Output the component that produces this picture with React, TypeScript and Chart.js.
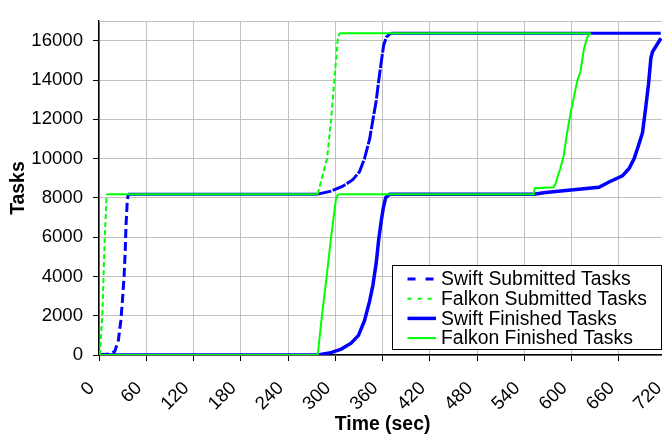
import React, { useEffect, useRef } from "react";
import { Chart, registerables } from "chart.js";

Chart.register(...registerables);

// ---- Data (time in seconds, tasks) ----
const swiftSubmittedTime = [1, 14, 20, 24.6, 27.7, 29.7, 31.9, 33.2, 34.4, 35.7, 37, 277.6, 294.6, 309.5, 322.2, 330.7, 337, 343.5, 347.7, 352, 355, 358.4, 361.3, 364.8, 369, 371, 713];
const swiftSubmittedTasks = [0, 60, 180, 757, 1750, 2740, 4060, 5210, 6700, 7690, 8192, 8192, 8345, 8593, 8925, 9337, 10000, 10990, 11980, 12970, 13960, 14950, 15770, 16190, 16350, 16384, 16384];

const falkonSubmittedTime = [1, 4.2, 7.3, 9.8, 277.6, 279.7, 289.5, 294.6, 298.8, 303.1, 305.2, 624];
const falkonSubmittedTasks = [0, 2000, 6000, 8192, 8192, 8510, 10000, 12000, 14000, 16100, 16384, 16384];

const swiftFinishedTime = [0, 277.6, 292.5, 307.5, 320, 329.4, 337, 343.5, 347.7, 352, 355, 358.4, 361, 364, 369, 551.8, 566.6, 634.6, 647.4, 664.4, 672.9, 679.3, 684.8, 689.9, 694.1, 697.5, 700.5, 702.6, 709, 713.3];
const swiftFinishedTasks = [0, 0, 100, 300, 600, 1000, 1750, 2740, 3560, 4720, 5870, 6860, 7520, 8020, 8192, 8192, 8270, 8540, 8810, 9120, 9500, 10000, 10660, 11320, 12640, 13790, 15110, 15440, 15850, 16130];

const falkonFinishedTime = [0, 277.6, 282.7, 289, 294.6, 301, 303, 305.2, 551.8, 553, 577, 579, 585.6, 589.9, 594.2, 598.5, 602.8, 607.1, 611.3, 615.6, 619.9, 624];
const falkonFinishedTasks = [0, 0, 1900, 4000, 6000, 8000, 8150, 8192, 8192, 8490, 8540, 8680, 9500, 10160, 11320, 12300, 13130, 13960, 14450, 15600, 16190, 16384];

const seriesLabels = ["Swift Submitted Tasks", "Falkon Submitted Tasks", "Swift Finished Tasks", "Falkon Finished Tasks"];
const xTickValues = [0, 60, 120, 180, 240, 300, 360, 420, 480, 540, 600, 660, 720];
const yTickValues = [0, 2000, 4000, 6000, 8000, 10000, 12000, 14000, 16000];
const xTitle = "Time (sec)";
const yTitle = "Tasks";

const FONT = "'Liberation Sans', Arial, Helvetica, sans-serif";
const BLUE = "#0000FF";
const GREEN = "#00FF00";

export default function App() {
  const ref = useRef<HTMLCanvasElement>(null);

  useEffect(() => {
    if (!ref.current) return;
    const pts = (xs: number[], ys: number[]) => xs.map((x, i) => ({ x, y: ys[i] }));
    const dashSeg = (early: number[], late: number[]) => (c: any) =>
      c.p0.parsed.y === c.p1.parsed.y ? [] : c.p0.parsed.x < 100 ? early : late;

    const legendDash: number[][] = [[8, 10], [4, 6], [], []];

    const topLine = {
      id: "topLine",
      beforeDatasetsDraw(chart: any) {
        const { ctx, chartArea: a } = chart;
        ctx.save();
        ctx.strokeStyle = "#c0c0c0";
        ctx.lineWidth = 1;
        ctx.beginPath();
        ctx.moveTo(a.left, Math.round(a.top) + 0.5);
        ctx.lineTo(a.right, Math.round(a.top) + 0.5);
        ctx.stroke();
        ctx.restore();
      },
    };

    const boxLegend = {
      id: "boxLegend",
      afterDraw(chart: any) {
        const { ctx, chartArea: a } = chart;
        const bx = Math.round(a.left + 293) + 0.5;
        const by = Math.round(a.bottom - 90) + 0.5;
        const bw = 269;
        const bh = 84;
        ctx.save();
        ctx.fillStyle = "#fff";
        ctx.fillRect(bx, by, bw, bh);
        ctx.strokeStyle = "#000";
        ctx.lineWidth = 1;
        ctx.strokeRect(bx, by, bw, bh);
        ctx.font = `19.4px ${FONT}`;
        ctx.textBaseline = "middle";
        ctx.textAlign = "left";
        chart.data.datasets.forEach((ds: any, i: number) => {
          const y = by + 13.5 + i * 19.7;
          ctx.save();
          ctx.strokeStyle = ds.borderColor;
          ctx.lineWidth = ds.borderWidth;
          ctx.setLineDash(legendDash[i]);
          ctx.beginPath();
          ctx.moveTo(bx + 15, y);
          ctx.lineTo(bx + 43.5, y);
          ctx.stroke();
          ctx.restore();
          ctx.fillStyle = "#000";
          ctx.fillText(ds.label, bx + 48.5, y + 1);
        });
        ctx.restore();
      },
    };

    const chart = new Chart(ref.current, {
      type: "line",
      data: {
        datasets: [
          {
            label: seriesLabels[0],
            data: pts(swiftSubmittedTime, swiftSubmittedTasks),
            borderColor: BLUE,
            borderWidth: 3,
            segment: { borderDash: dashSeg([9, 4], [14, 1.5]) },
            order: 2,
          },
          {
            label: seriesLabels[1],
            data: pts(falkonSubmittedTime, falkonSubmittedTasks),
            borderColor: GREEN,
            borderWidth: 2,
            segment: { borderDash: dashSeg([5, 3], [5, 3]) },
            order: 0,
          },
          {
            label: seriesLabels[2],
            data: pts(swiftFinishedTime, swiftFinishedTasks),
            borderColor: BLUE,
            borderWidth: 3.5,
            order: 3,
          },
          {
            label: seriesLabels[3],
            data: pts(falkonFinishedTime, falkonFinishedTasks),
            borderColor: GREEN,
            borderWidth: 2,
            order: 1,
          },
        ] as any,
      },
      options: {
        animation: false,
        responsive: false,
        layout: { padding: { top: 12, left: 0, right: 0, bottom: 0 } },
        elements: { point: { radius: 0 }, line: { tension: 0, fill: false } },
        plugins: { legend: { display: false }, tooltip: { enabled: false } },
        scales: {
          x: {
            type: "linear",
            min: 0,
            max: 720,
            afterBuildTicks(s: any) {
              s.ticks = xTickValues.map((v) => ({ value: v }));
            },
            ticks: {
              autoSkip: false,
              maxRotation: 45,
              minRotation: 45,
              color: "#000",
              padding: 9,
              font: { family: FONT, size: 18.6 },
              callback: (v: any) => String(v) + "  ",
            },
            grid: { color: "#c0c0c0", tickColor: "#000", tickLength: 6 },
            border: { color: "#000", width: 1.5 },
            title: {
              display: true,
              text: xTitle,
              color: "#000",
              padding: { top: 0, bottom: 0 },
              font: { family: FONT, size: 19.4, weight: "bold", lineHeight: 1 },
            },
            afterFit(s: any) {
              s.height = 79;
            },
          },
          y: {
            type: "linear",
            min: 0,
            max: 17000,
            afterBuildTicks(s: any) {
              s.ticks = yTickValues.map((v) => ({ value: v }));
            },
            ticks: {
              color: "#000",
              padding: 10,
              font: { family: FONT, size: 18.6 },
              callback: (v: any) => String(v),
            },
            grid: { color: "#c0c0c0", tickColor: "#000", tickLength: 6 },
            border: { color: "#000", width: 1.5 },
            title: {
              display: true,
              text: yTitle,
              color: "#000",
              padding: { top: 7, bottom: 0 },
              font: { family: FONT, size: 19.4, weight: "bold" },
            },
            afterFit(s: any) {
              s.width = 99;
            },
          },
        },
      } as any,
      plugins: [topLine, boxLegend],
    });
    return () => chart.destroy();
  }, []);

  return (
    <div
      style={{
        position: "fixed",
        left: 0,
        top: 0,
        width: 662,
        height: 434,
        overflow: "hidden",
        background: "#fff",
      }}
    >
      <canvas ref={ref} width={691} height={434} style={{ display: "block", width: 691, height: 434 }} />
    </div>
  );
}
